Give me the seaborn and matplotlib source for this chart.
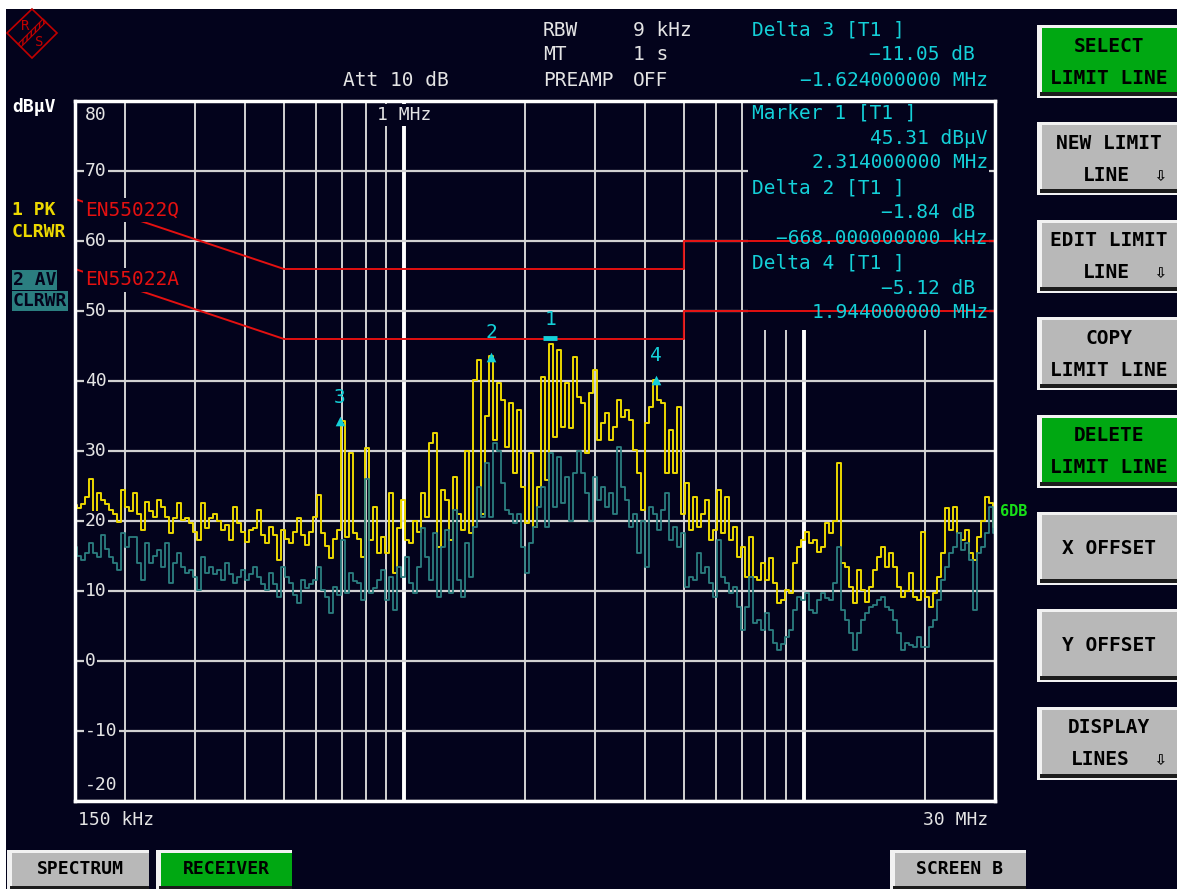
import numpy as np
import matplotlib
matplotlib.use("Agg")
import matplotlib.pyplot as plt
import matplotlib.transforms as mtransforms
from matplotlib.patches import Rectangle, Polygon
import seaborn as sns

W, H = 1177, 889

# receiver sweep: 231 log spaced points, 150 kHz .. 30 MHz
f_start, f_stop, n_points = 150e3, 30e6, 231

# trace 1: peak, clear/write (dBuV), one value per sweep point
pk_level = [
    22.3, 21.8, 22.5, 23.5, 26.0, 19.7, 24.0, 23.0, 22.5, 21.6,
    21.0, 19.9, 24.4, 22.0, 21.5, 24.0, 21.0, 18.7, 22.7, 21.5,
    20.6, 23.0, 22.0, 20.6, 18.3, 20.5, 22.6, 20.1, 20.5, 19.7,
    18.5, 17.3, 22.6, 19.0, 20.5, 21.0, 20.0, 18.7, 19.5, 17.3,
    22.0, 19.7, 18.5, 17.0, 18.7, 19.0, 21.6, 18.0, 16.9, 19.1,
    18.0, 14.4, 18.7, 17.5, 16.9, 18.5, 20.4, 18.0, 16.6, 18.5,
    20.6, 23.7, 18.3, 16.5, 14.7, 17.5, 18.7, 34.3, 17.7, 29.7,
    18.3, 17.5, 14.9, 30.4, 17.3, 22.0, 15.4, 17.7, 15.4, 24.0,
    12.6, 19.0, 23.0, 17.3, 16.9, 20.0, 18.5, 24.0, 20.6, 31.1,
    32.6, 16.3, 24.4, 23.0, 17.3, 26.3, 21.0, 18.7, 30.0, 18.3,
    40.1, 43.0, 21.0, 35.0, 43.5, 31.6, 39.7, 37.3, 30.6, 36.9,
    26.9, 35.9, 24.9, 19.7, 29.7, 19.1, 24.9, 40.6, 25.9, 45.3,
    32.0, 44.4, 33.4, 39.7, 33.3, 43.4, 37.7, 36.9, 29.7, 38.3,
    41.6, 31.6, 34.0, 35.4, 31.6, 33.4, 37.3, 34.9, 35.9, 34.4,
    30.1, 26.9, 21.6, 34.0, 36.3, 40.2, 37.3, 36.9, 26.9, 33.0,
    26.9, 36.3, 21.0, 25.4, 18.7, 23.4, 19.1, 21.0, 23.0, 17.3,
    18.7, 24.4, 18.3, 23.4, 17.3, 19.1, 14.9, 16.3, 12.0, 17.7,
    12.0, 11.6, 14.0, 11.6, 14.7, 11.1, 8.3, 8.7, 10.1, 9.7,
    14.0, 16.3, 17.3, 18.4, 16.9, 17.3, 15.6, 16.3, 19.7, 18.3,
    20.0, 28.3, 14.0, 13.4, 10.6, 8.3, 13.0, 10.1, 8.4, 10.6,
    13.0, 14.9, 16.3, 13.4, 15.4, 13.4, 10.6, 9.1, 10.0, 12.6,
    9.1, 8.7, 18.4, 9.1, 7.7, 9.7, 12.0, 15.4, 21.9, 18.7,
    22.0, 18.3, 17.3, 18.7, 15.4, 14.4, 17.7, 20.0, 23.4, 22.6,
    19.1,
]

# trace 2: average, clear/write (dBuV)
av_level = [
    16.3, 15.0, 14.4, 15.5, 16.9, 15.5, 14.9, 18.0, 16.0, 14.9,
    14.0, 13.0, 18.3, 16.3, 17.7, 17.7, 14.0, 11.6, 16.9, 14.0,
    15.0, 15.9, 13.4, 16.9, 11.1, 14.0, 15.4, 13.5, 12.6, 13.0,
    12.0, 10.1, 14.9, 12.6, 13.5, 12.5, 13.0, 11.6, 14.0, 12.5,
    11.1, 12.0, 13.0, 11.6, 12.5, 13.4, 12.0, 11.0, 10.1, 12.6,
    11.0, 9.1, 13.4, 12.0, 11.1, 9.5, 8.3, 11.6, 10.5, 11.0,
    11.6, 13.4, 10.1, 9.1, 6.9, 10.6, 9.5, 17.3, 9.7, 12.6,
    11.5, 11.1, 8.7, 26.0, 9.7, 10.5, 11.6, 13.0, 8.7, 12.0,
    7.3, 13.4, 12.0, 14.9, 11.1, 9.7, 13.4, 19.0, 14.9, 11.6,
    18.3, 9.1, 16.3, 18.7, 9.7, 21.6, 11.6, 9.1, 16.9, 12.0,
    19.1, 24.9, 20.6, 28.3, 20.6, 31.1, 30.0, 25.4, 21.6, 21.0,
    19.7, 21.0, 16.3, 12.6, 16.9, 19.1, 22.0, 24.9, 19.1, 29.7,
    22.0, 29.1, 22.6, 26.3, 20.0, 26.9, 30.0, 26.9, 24.0, 20.0,
    26.3, 23.0, 24.9, 22.0, 24.0, 21.0, 30.6, 24.9, 23.0, 19.1,
    21.0, 15.4, 20.0, 13.4, 22.0, 21.0, 18.7, 21.6, 24.0, 17.3,
    19.1, 16.3, 18.3, 10.6, 12.0, 11.6, 15.4, 12.6, 13.4, 11.1,
    9.1, 17.3, 12.0, 11.1, 9.7, 10.6, 7.7, 4.4, 7.7, 12.0,
    5.4, 5.9, 4.4, 6.9, 4.4, 2.6, 1.6, 2.5, 3.4, 4.4,
    7.3, 9.1, 8.7, 9.7, 7.3, 6.9, 8.7, 9.7, 9.0, 8.7,
    11.1, 16.3, 7.3, 5.9, 4.0, 1.6, 4.0, 5.9, 6.9, 7.7,
    8.0, 8.7, 9.1, 7.7, 7.3, 5.9, 4.0, 1.6, 2.6, 2.3,
    2.0, 3.4, 2.0, 2.0, 4.9, 5.9, 8.7, 11.6, 13.4, 15.4,
    16.3, 18.3, 15.9, 16.9, 14.4, 7.3, 15.4, 16.3, 18.3, 22.0,
    18.3,
]

# limit lines
lim_freq = [0.15e6, 0.5e6, 5e6, 5e6, 30e6]
lim_qp = [66, 56, 56, 60, 60]      # EN55022Q
lim_av = [56, 46, 46, 50, 50]      # EN55022A

# markers (1 = reference, 2..4 = delta markers)
mk_name = ["1", "2", "3", "4"]
mk_freq = [2.314e6, 1.646e6, 0.690e6, 4.258e6]
mk_level = [45.31, 43.47, 34.26, 40.19]

ytick_vals = [80, 70, 60, 50, 40, 30, 20, 10, 0, -10, -20]
xgrid_major = [1e6, 1e7]
xgrid_minor = [2e5, 3e5, 4e5, 5e5, 6e5, 7e5, 8e5, 9e5,
               2e6, 3e6, 4e6, 5e6, 6e6, 7e6, 8e6, 9e6, 2e7]

softkeys = [
    ("SELECT", "LIMIT LINE", False, True),
    ("NEW LIMIT", "LINE", True, False),
    ("EDIT LIMIT", "LINE", True, False),
    ("COPY", "LIMIT LINE", False, False),
    ("DELETE", "LIMIT LINE", False, True),
    ("X OFFSET", "", False, False),
    ("Y OFFSET", "", False, False),
    ("DISPLAY", "LINES", True, False),
]

NAVY = "#03031c"
YEL = "#ecd800"
TEAL = "#2b7e80"
RED = "#e41010"
CYAN = "#14d0d8"
GRID = "#d2d2d2"
BTN_GRAY = "#b8b8b8"
BTN_GREEN = "#00a812"
MONO = ["DejaVu Sans Mono", "DejaVu Sans"]

plt.rcParams["font.family"] = MONO

freqs = np.geomspace(f_start, f_stop, n_points)

fig = plt.figure(figsize=(W / 100, H / 100), dpi=100)
fig.patch.set_facecolor("white")

# background layer in pixel coords
bg = fig.add_axes([0, 0, 1, 1], zorder=0)
bg.set_xlim(0, W)
bg.set_ylim(H, 0)
bg.axis("off")
bg.add_patch(Rectangle((6, 9), W - 6, H - 9, fc=NAVY, ec="none"))

# ---------------- main diagram ----------------
ax = fig.add_axes([75 / W, 1 - 801 / H, 920 / W, 700 / H], zorder=1)
ax.set_facecolor(NAVY)
ax.set_xscale("log")
ax.set_xlim(f_start, f_stop)
ax.set_ylim(-20, 80)
ax.set_xticks(xgrid_major)
ax.set_xticks(xgrid_minor, minor=True)
ax.set_yticks(ytick_vals)
ax.set_axisbelow(True)
ax.grid(True, which="major", axis="x", color="white", lw=2.8)
ax.grid(True, which="minor", axis="x", color=GRID, lw=1.4)
ax.grid(True, which="major", axis="y", color=GRID, lw=1.6)
ax.tick_params(which="both", length=0, labelbottom=False, labelleft=False)
for sp in ax.spines.values():
    sp.set_color("white")
    sp.set_linewidth(2.5)

# marker info field hides the grid behind it
ax.add_patch(Rectangle((0.7315, 0.673), 0.2625, 0.325, transform=ax.transAxes,
                       fc=NAVY, ec="none", zorder=1))

sns.lineplot(x=lim_freq, y=lim_qp, ax=ax, color=RED, lw=1.4, sort=False,
             estimator=None, legend=False)
sns.lineplot(x=lim_freq, y=lim_av, ax=ax, color=RED, lw=1.4, sort=False,
             estimator=None, legend=False)
sns.lineplot(x=freqs, y=pk_level, ax=ax, color=YEL, lw=1.4, sort=False,
             estimator=None, legend=False, drawstyle="steps-mid")
sns.lineplot(x=freqs, y=av_level, ax=ax, color=TEAL, lw=1.3, sort=False,
             estimator=None, legend=False, drawstyle="steps-mid")
ax.set_xlabel("")
ax.set_ylabel("")

# limit line names
for name, lvl in [("EN55022Q", lim_qp[0]), ("EN55022A", lim_av[0])]:
    ax.annotate(name, xy=(lim_freq[0], lvl), xytext=(10, -11),
                textcoords="offset pixels", ha="left", va="center",
                color=RED, fontsize=14,
                bbox=dict(fc=NAVY, ec="none", pad=1.5), zorder=3)

# y labels inside the grid
for v in ytick_vals:
    dy = -14 if v == ytick_vals[0] else (16 if v == ytick_vals[-1] else 0)
    ax.annotate(str(v), xy=(0.011, v), xycoords=("axes fraction", "data"),
                xytext=(0, dy), textcoords="offset pixels", ha="left",
                va="center", color="#e4e4e4", fontsize=13,
                bbox=dict(fc=NAVY, ec="none", pad=1.0), zorder=3)

ax.annotate("1 MHz", xy=(xgrid_major[0], 80), xytext=(0, -14),
            textcoords="offset pixels", ha="center", va="center",
            color="#e4e4e4", fontsize=13,
            bbox=dict(fc=NAVY, ec="none", pad=1.5), zorder=3)

# markers
sns.scatterplot(x=mk_freq[1:], y=mk_level[1:], ax=ax, marker="^", s=48,
                color=CYAN, edgecolor=CYAN, linewidth=0, zorder=4, legend=False)
bar_tr = mtransforms.offset_copy(ax.transData, fig=fig, x=0, y=6, units="dots")
ax.plot([mk_freq[0]], [mk_level[0]], marker="_", ms=10, mew=3.5, color=CYAN,
        transform=bar_tr, zorder=4)
for n, f, l in zip(mk_name, mk_freq, mk_level):
    ax.annotate(n, xy=(f, l), xytext=(0, 24), textcoords="offset pixels",
                ha="center", va="center", color=CYAN, fontsize=14, zorder=4)

# ---------------- screen overlay (pixel coords) ----------------
hud = fig.add_axes([0, 0, 1, 1], zorder=2)
hud.set_xlim(0, W)
hud.set_ylim(H, 0)
hud.axis("off")


def txt(x, y, s, color="#e4e4e4", size=14, **kw):
    kw.setdefault("ha", "left")
    kw.setdefault("va", "center")
    hud.text(x, y, s, color=color, fontsize=size, **kw)


def fmt_freq(f):
    s = f"{f / 1e3:.9f} kHz" if abs(f) < 1e6 else f"{f / 1e6:.9f} MHz"
    return s.replace("-", "\u2212")


def fmt_db(d):
    return f"{d:.2f} dB".replace("-", "\u2212")


# R&S logo
hud.add_patch(Polygon([(32, 9), (57, 33), (32, 58), (7, 33)], closed=True,
                      fill=False, ec="#c00000", lw=1.2))
hud.add_patch(Polygon([(43, 19), (46, 22), (21, 47), (18, 44)], closed=True,
                      fc="none", ec="#c00000", lw=0.8, hatch="||||"))
txt(21, 26, "R", color="#c00000", size=10)
txt(35, 42, "S", color="#c00000", size=10)

# header
txt(343, 80, "Att 10 dB")
txt(543, 30, "RBW")
txt(633, 30, "9 kHz")
txt(543, 55, "MT")
txt(633, 55, "1 s")
txt(543, 80, "PREAMP")
txt(633, 80, "OFF")

d_lvl = [l - mk_level[0] for l in mk_level]
d_frq = [f - mk_freq[0] for f in mk_freq]
txt(752, 30, "Delta 3 [T1 ]", color=CYAN)
txt(975, 55, fmt_db(d_lvl[2]), color=CYAN, ha="right")
txt(988, 80, fmt_freq(d_frq[2]), color=CYAN, ha="right")
txt(752, 113, "Marker 1 [T1 ]", color=CYAN)
txt(988, 138, f"{mk_level[0]:.2f} dBµV", color=CYAN, ha="right")
txt(988, 163, fmt_freq(mk_freq[0]), color=CYAN, ha="right")
txt(752, 188, "Delta 2 [T1 ]", color=CYAN)
txt(975, 213, fmt_db(d_lvl[1]), color=CYAN, ha="right")
txt(988, 238, fmt_freq(d_frq[1]), color=CYAN, ha="right")
txt(752, 263, "Delta 4 [T1 ]", color=CYAN)
txt(975, 288, fmt_db(d_lvl[3]), color=CYAN, ha="right")
txt(988, 313, fmt_freq(d_frq[3]), color=CYAN, ha="right")

# left side
txt(12, 107, "dBµV", color="white", size=13, weight="bold")
txt(12, 210, "1 PK", color=YEL, size=13, weight="bold")
txt(12, 232, "CLRWR", color=YEL, size=13, weight="bold")
txt(13, 280, "2 AV", color=NAVY, size=13, weight="bold",
    bbox=dict(fc=TEAL, ec="none", pad=0.6))
txt(13, 301, "CLRWR", color=NAVY, size=13, weight="bold",
    bbox=dict(fc=TEAL, ec="none", pad=0.6))

# x span labels, display line label
txt(78, 820, "150 kHz", size=13)
txt(988, 820, "30 MHz", size=13, ha="right")
txt(1000, 512, "6DB", color="#18e018", size=11, weight="bold")


def button(x, y, w, h, color):
    hud.add_patch(Rectangle((x, y), w, h, fc="#f2f2f2", ec="none"))
    hud.add_patch(Rectangle((x + 3, y + h - 6), w - 3, 4, fc="#1c1c1c", ec="none"))
    hud.add_patch(Rectangle((x + 5, y + 3), w - 5, h - 9, fc=color, ec="none"))


# softkeys
for k, (l1, l2, arrow, active) in enumerate(softkeys):
    top = 25 + k * 97.4
    button(1037, top, 140, 73, BTN_GREEN if active else BTN_GRAY)
    if l2:
        txt(1109, top + 21, l1, color="black", size=14, weight="bold", ha="center")
        if arrow:
            txt(1130, top + 53, l2, color="black", size=14, weight="bold", ha="right")
            txt(1160, top + 53, "\u21e9", color="black", size=14, weight="bold",
                ha="center")
        else:
            txt(1109, top + 53, l2, color="black", size=14, weight="bold", ha="center")
    else:
        txt(1109, top + 36, l1, color="black", size=14, weight="bold", ha="center")

# bottom hotkeys
for label, x, w, active in [("SPECTRUM", 7, 142, False), ("RECEIVER", 156, 136, True),
                            ("SCREEN B", 890, 136, False)]:
    button(x, 850, w, 42, BTN_GREEN if active else BTN_GRAY)
    txt(x + w / 2 + 2, 869, label, color="black", size=13, weight="bold", ha="center")

fig.savefig("out.png", dpi=100, facecolor="white")
